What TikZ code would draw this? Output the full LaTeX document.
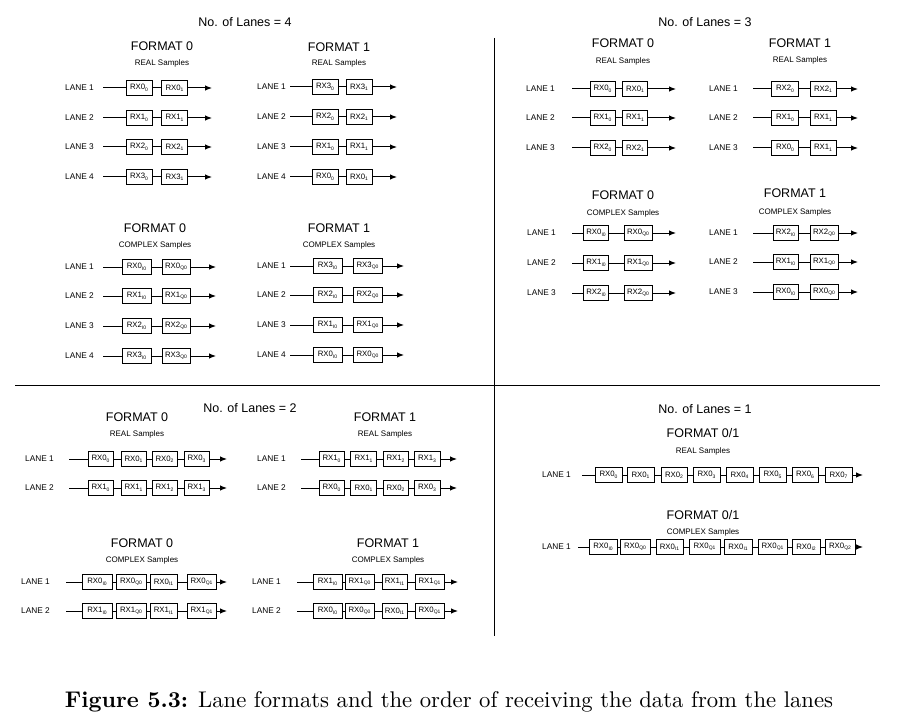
\documentclass[tikz,border=0pt]{standalone}
\usepackage{fontspec}
\usepackage{graphicx}
\usetikzlibrary{arrows.meta}
\newfontfamily\hv{Liberation Sans}
\newcommand\rx[2]{RX#1\raisebox{-0.35ex}{\fontsize{5}{5}\selectfont #2}}
\tikzset{
  hd/.style={font=\hv\fontsize{12.5}{14}\selectfont, inner sep=0pt},
  subhd/.style={font=\hv\fontsize{8}{9}\selectfont, inner sep=0pt},
  lanelbl/.style={font=\hv\fontsize{8.3}{9}\selectfont, inner sep=0pt, anchor=west},
  rxbox/.style={draw, line width=1pt, minimum height=15pt, inner sep=0pt, font=\hv\fontsize{7.8}{9}\selectfont},
  ln/.style={line width=1pt},
  arr/.style={ln, -{Latex[length=7pt,width=5.5pt]}},
  divider/.style={line width=0.9pt},
}
% id, label, labelx, y, startx, endx, boxes (x/w/text)
\newcommand\lanerow[7]{%
  \node[lanelbl] (#1l) at (#3,#4) {#2};
  \coordinate (#1s) at (#5,#4);
  \coordinate (#1e) at (#6,#4);
  \foreach \bx/\bw/\bt [count=\i] in {#7}{%
    \node[rxbox, minimum width=\bw pt] (#1b\i) at (\bx,#4) {\bt};
    \ifnum\i=1
      \draw[ln] (#1s) -- (#1b1.west);
    \else
      \pgfmathtruncatemacro\prevb{\i-1}
      \draw[ln] (#1b\prevb.east) -- (#1b\i.west);
    \fi
    \xdef\lastb{\i}
  }
  \draw[arr] (#1b\lastb.east) -- (#1e);
}
\begin{document}
\begin{tikzpicture}[x=1pt,y=-1pt]
\useasboundingbox (0,0) rectangle (899,722);

% dividers
\coordinate (vt) at (494,38); \coordinate (vb) at (494,636);
\coordinate (hl) at (15,385); \coordinate (hr) at (880,385);
\draw[divider] (vt) -- (vb);
\draw[divider] (hl) -- (hr);

% ===== No. of Lanes = 4 =====
\node[hd] (t4) at (245,22) {No. of Lanes = 4};
\node[hd] (t4a) at (162,46) {FORMAT 0};
\node[subhd] (s4a) at (162,63) {REAL Samples};
\node[hd] (t4b) at (339,47) {FORMAT 1};
\node[subhd] (s4b) at (339,63) {REAL Samples};
\lanerow{ra1}{LANE 1}{65}{88}{103}{212}{139/26/\rx{0}{0}, 174.5/26/\rx{0}{1}}
\lanerow{ra2}{LANE 2}{65}{118}{103}{212}{139/26/\rx{1}{0}, 174.5/26/\rx{1}{1}}
\lanerow{ra3}{LANE 3}{65}{147}{103}{212}{139/26/\rx{2}{0}, 174.5/26/\rx{2}{1}}
\lanerow{ra4}{LANE 4}{65}{177}{103}{212}{139/26/\rx{3}{0}, 174.5/26/\rx{3}{1}}
\lanerow{rb1}{LANE 1}{257}{87}{290}{397}{325/26/\rx{3}{0}, 359/26/\rx{3}{1}}
\lanerow{rb2}{LANE 2}{257}{117}{290}{397}{325/26/\rx{2}{0}, 359/26/\rx{2}{1}}
\lanerow{rb3}{LANE 3}{257}{147}{290}{397}{325/26/\rx{1}{0}, 359/26/\rx{1}{1}}
\lanerow{rb4}{LANE 4}{257}{177}{290}{397}{325/26/\rx{0}{0}, 359/26/\rx{0}{1}}

\node[hd] (t4c) at (155,228) {FORMAT 0};
\node[subhd] (s4c) at (155,245) {COMPLEX Samples};
\node[hd] (t4d) at (339,228) {FORMAT 1};
\node[subhd] (s4d) at (339,245) {COMPLEX Samples};
\lanerow{ca1}{LANE 1}{65}{267}{103}{216}{136.5/29/\rx{0}{I0}, 176/28/\rx{0}{Q0}}
\lanerow{ca2}{LANE 2}{65}{296}{103}{216}{136.5/29/\rx{1}{I0}, 176/28/\rx{1}{Q0}}
\lanerow{ca3}{LANE 3}{65}{326}{103}{216}{136.5/29/\rx{2}{I0}, 176/28/\rx{2}{Q0}}
\lanerow{ca4}{LANE 4}{65}{356}{103}{216}{136.5/29/\rx{3}{I0}, 176/28/\rx{3}{Q0}}
\lanerow{cb1}{LANE 1}{257}{266}{290}{404}{327.5/29/\rx{3}{I0}, 367.5/29/\rx{3}{Q0}}
\lanerow{cb2}{LANE 2}{257}{295}{290}{404}{327.5/29/\rx{2}{I0}, 367.5/29/\rx{2}{Q0}}
\lanerow{cb3}{LANE 3}{257}{325}{290}{404}{327.5/29/\rx{1}{I0}, 367.5/29/\rx{1}{Q0}}
\lanerow{cb4}{LANE 4}{257}{355}{290}{404}{327.5/29/\rx{0}{I0}, 367.5/29/\rx{0}{Q0}}

% ===== No. of Lanes = 3 =====
\node[hd] (t3) at (705,22) {No. of Lanes = 3};
\node[hd] (t3a) at (623,43) {FORMAT 0};
\node[subhd] (s3a) at (623,61) {REAL Samples};
\node[hd] (t3b) at (800,43) {FORMAT 1};
\node[subhd] (s3b) at (800,60) {REAL Samples};
\lanerow{rc1}{LANE 1}{526}{89}{572}{676}{602.5/25/\rx{0}{0}, 635/25/\rx{0}{1}}
\lanerow{rc2}{LANE 2}{526}{118}{572}{676}{602.5/25/\rx{1}{0}, 635/25/\rx{1}{1}}
\lanerow{rc3}{LANE 3}{526}{148}{572}{676}{602.5/25/\rx{2}{0}, 635/25/\rx{2}{1}}
\lanerow{rd1}{LANE 1}{709}{89}{753}{858}{785/27/\rx{2}{0}, 823/26/\rx{2}{1}}
\lanerow{rd2}{LANE 2}{709}{118}{753}{858}{785/27/\rx{1}{0}, 823/26/\rx{1}{1}}
\lanerow{rd3}{LANE 3}{709}{148}{753}{858}{785/27/\rx{0}{0}, 823/26/\rx{1}{1}}

\node[hd] (t3c) at (623,195) {FORMAT 0};
\node[subhd] (s3c) at (623,213) {COMPLEX Samples};
\node[hd] (t3d) at (795,193) {FORMAT 1};
\node[subhd] (s3d) at (795,212) {COMPLEX Samples};
\lanerow{cc1}{LANE 1}{527}{233}{572}{676}{596/25/\rx{0}{I0}, 638/28/\rx{0}{Q0}}
\lanerow{cc2}{LANE 2}{527}{263}{572}{676}{596/25/\rx{1}{I0}, 638/28/\rx{1}{Q0}}
\lanerow{cc3}{LANE 3}{527}{293}{572}{676}{596/25/\rx{2}{I0}, 638/28/\rx{2}{Q0}}
\lanerow{cd1}{LANE 1}{709}{233}{753}{858}{785.5/25/\rx{2}{I0}, 824/28/\rx{2}{Q0}}
\lanerow{cd2}{LANE 2}{709}{262}{753}{858}{785.5/25/\rx{1}{I0}, 824/28/\rx{1}{Q0}}
\lanerow{cd3}{LANE 3}{709}{292}{753}{858}{785.5/25/\rx{0}{I0}, 824/28/\rx{0}{Q0}}

% ===== No. of Lanes = 2 =====
\node[hd] (t2) at (250,408) {No. of Lanes = 2};
\node[hd] (t2a) at (137,417) {FORMAT 0};
\node[subhd] (s2a) at (137,434) {REAL Samples};
\node[hd] (t2b) at (385,417) {FORMAT 1};
\node[subhd] (s2b) at (385,434) {REAL Samples};
\lanerow{re1}{LANE 1}{25}{459}{69}{227}{100.5/25/\rx{0}{0}, 133.5/25/\rx{0}{1}, 164.5/25/\rx{0}{2}, 196.5/25/\rx{0}{3}}
\lanerow{re2}{LANE 2}{25}{488}{69}{227}{100.5/25/\rx{1}{0}, 133.5/25/\rx{1}{1}, 164.5/25/\rx{1}{2}, 196.5/25/\rx{1}{3}}
\lanerow{rf1}{LANE 1}{257}{459}{301}{457}{331.5/25/\rx{1}{0}, 363.5/26/\rx{1}{1}, 395.5/25/\rx{1}{2}, 427/26/\rx{1}{3}}
\lanerow{rf2}{LANE 2}{257}{488}{301}{457}{331.5/25/\rx{0}{0}, 363.5/26/\rx{0}{1}, 395.5/25/\rx{0}{2}, 427/26/\rx{0}{3}}

\node[hd] (t2c) at (142,543) {FORMAT 0};
\node[subhd] (s2c) at (142,560) {COMPLEX Samples};
\node[hd] (t2d) at (388,543) {FORMAT 1};
\node[subhd] (s2d) at (388,560) {COMPLEX Samples};
\lanerow{ce1}{LANE 1}{21}{582}{66}{227}{97/30/\rx{0}{I0}, 131/30/\rx{0}{Q0}, 163.5/27/\rx{0}{I1}, 201.5/29/\rx{0}{Q1}}
\lanerow{ce2}{LANE 2}{21}{611}{66}{227}{97/30/\rx{1}{I0}, 131/30/\rx{1}{Q0}, 163.5/27/\rx{1}{I1}, 201.5/29/\rx{1}{Q1}}
\lanerow{cf1}{LANE 1}{252}{582}{297}{458}{327.5/29/\rx{1}{I0}, 359.5/29/\rx{1}{Q0}, 394.5/25/\rx{1}{I1}, 429.5/29/\rx{1}{Q1}}
\lanerow{cf2}{LANE 2}{252}{611}{297}{458}{327.5/29/\rx{0}{I0}, 359.5/29/\rx{0}{Q0}, 394.5/25/\rx{0}{I1}, 429.5/29/\rx{0}{Q1}}

% ===== No. of Lanes = 1 =====
\node[hd] (t1) at (705,409) {No. of Lanes = 1};
\node[hd] (t1a) at (703,433) {FORMAT 0/1};
\node[subhd] (s1a) at (703,451) {REAL Samples};
\lanerow{rg1}{LANE 1}{542}{475}{582}{863}{608.5/27/\rx{0}{0}, 640.5/27/\rx{0}{1}, 674/26/\rx{0}{2}, 706.5/27/\rx{0}{3}, 739.5/27/\rx{0}{4}, 772.5/27/\rx{0}{5}, 805/26/\rx{0}{6}, 838.5/27/\rx{0}{7}}
\node[hd] (t1b) at (703,515) {FORMAT 0/1};
\node[subhd] (s1b) at (703,532) {COMPLEX Samples};
\lanerow{cg1}{LANE 1}{542}{547}{578}{863}{603/28/\rx{0}{I0}, 635/30/\rx{0}{Q0}, 669.5/27/\rx{0}{I1}, 704.5/31/\rx{0}{Q1}, 738/28/\rx{0}{I1}, 772.5/29/\rx{0}{Q1}, 806/28/\rx{0}{I2}, 840/30/\rx{0}{Q2}}

% caption
\node[inner sep=0pt] (cap) at (449,702) {\resizebox{768pt}{!}{\textbf{Figure 5.3:} Lane formats and the order of receiving the data from the lanes}};
\end{tikzpicture}
\end{document}
